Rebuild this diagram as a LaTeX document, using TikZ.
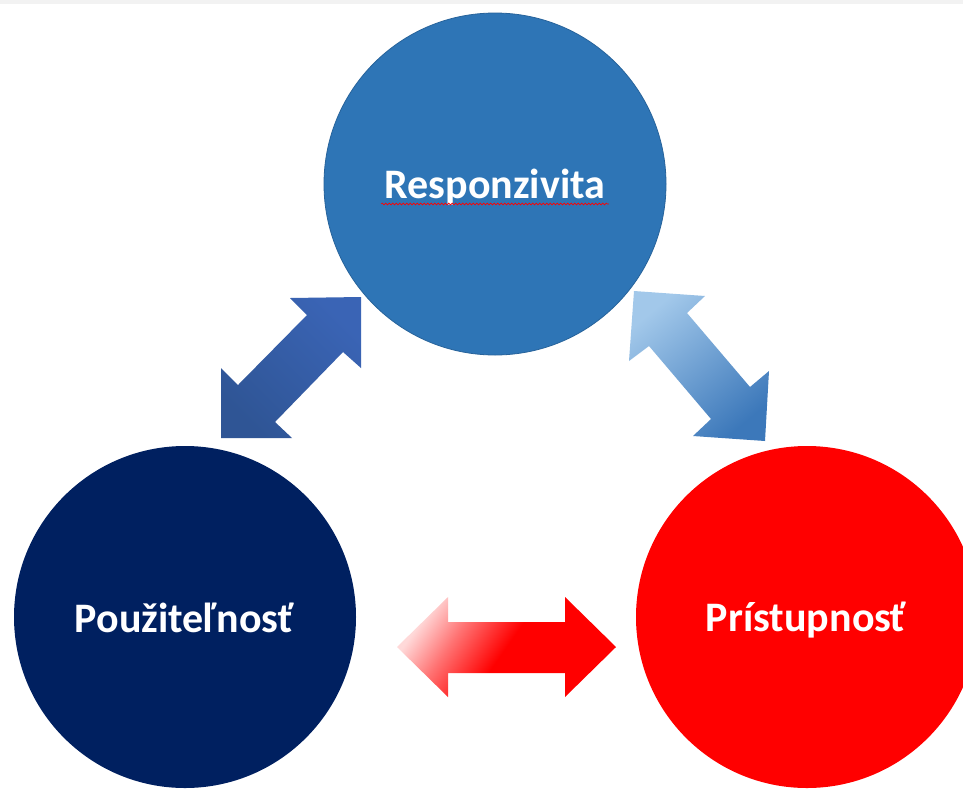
\documentclass[tikz,border=0pt]{standalone}
\usepackage{fontspec}
\setmainfont{Carlito}
\usetikzlibrary{decorations.pathmorphing}
\definecolor{topblue}{HTML}{2E75B6}
\definecolor{navy}{HTML}{002060}
\definecolor{pure red}{HTML}{FF0000}
\definecolor{arrL1}{HTML}{2F5595}
\definecolor{arrL2}{HTML}{3A64B5}
\definecolor{arrR1}{HTML}{A2C8EA}
\definecolor{arrR2}{HTML}{3C78BA}
\pgfdeclarehorizontalshading{redfade}{100bp}{color(0bp)=(red!15!white); color(25bp)=(red!15!white); color(36bp)=(red!55!white); color(50bp)=(red); color(100bp)=(red)}
\tikzset{
  circ/.style={circle, minimum size=342pt, inner sep=0pt},
  lbl/.style={text=white, font=\fontsize{42}{48}\selectfont\bfseries, anchor=base},
}
\begin{document}
\begin{tikzpicture}[x=1pt,y=-1pt]
\useasboundingbox (0,0) rectangle (963,788);
\fill[white] (0,0) rectangle (963,788);
\fill[black!5] (0,0) rectangle (963,4);
\begin{scope}
\clip (0,0) rectangle (963,788);
\node[circ, fill=topblue, draw=topblue!85!black, line width=0.8pt] (resp) at (495,184) {};
\node[circ, fill=navy] (pouz) at (185,617) {};
\node[circ, fill=pure red] (prist) at (807,617) {};
\end{scope}
% left arrow
\shade[bottom color=arrL1, top color=arrL2, shading angle=-45]
 (361,297) -- (361,368) -- (343,352) -- (275,422) -- (292,438) -- (221,438)
 -- (221,368) -- (238,385) -- (307,315) -- (290,298) -- cycle;
% right arrow
\shade[top color=arrR1, bottom color=arrR2, shading angle=40]
 (634,291) -- (705,296) -- (687,313) -- (750,387) -- (769,371) -- (765,441)
 -- (693,436) -- (711,419) -- (649,346) -- (629,361) -- cycle;
% bottom arrow
\shade[shading=redfade, shading angle=-35]
 (397,647) -- (448,597) -- (448,622) -- (565,622) -- (565,597) -- (616,647)
 -- (565,697) -- (565,673) -- (448,673) -- (448,697) -- cycle;
% labels
\node[lbl] (tresp) at (495,198) {Responzivita};
\node[lbl] (tpouz) at (184,632) {Použiteľnosť};
\node[lbl] (tprist) at (806,631) {Prístupnosť};
\draw[red, line width=0.6pt, decorate, decoration={snake, amplitude=0.9pt, segment length=3.5pt}]
 (tresp.base west) ++(0,6) coordinate (sq1) -- (tresp.base east |- sq1);
\end{tikzpicture}
\end{document}
